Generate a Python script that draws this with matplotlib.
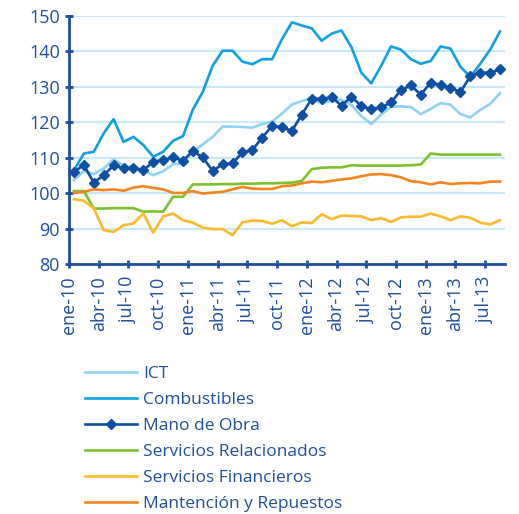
import numpy as np
import matplotlib
matplotlib.use('Agg')
import matplotlib.pyplot as plt

plt.rcParams['font.family'] = ['Open Sans', 'DejaVu Sans']

text_color = '#1f4e9c'
grid_color = '#c8e9f8'

meses = ['ene', 'feb', 'mar', 'abr', 'may', 'jun', 'jul', 'ago', 'sep', 'oct', 'nov', 'dic']
years = ['10', '11', '12', '13']
months = [f'{m}-{y}' for y in years for m in meses][:44]

ict = [103.7, 106.3, 105.4, 107.0, 109.6, 107.7, 107.5, 106.5, 105.1, 106.2,
       108.2, 108.4, 111.7, 113.8, 115.9, 118.8, 118.8, 118.7, 118.5, 119.5,
       120.2, 122.5, 125.0, 126.0, 126.8, 125.3, 126.1, 126.4, 124.9, 121.8,
       119.5, 122.2, 124.4, 124.5, 124.3, 122.3, 123.8, 125.4, 125.0, 122.3,
       121.4, 123.5, 125.2, 128.2]
combustibles = [106.5, 111.2, 111.7, 116.9, 120.9, 114.5, 115.9, 113.6, 110.3, 111.7,
                114.8, 116.1, 123.6, 128.6, 136.0, 140.2, 140.2, 137.1, 136.4, 137.8,
                137.8, 143.5, 148.2, 147.3, 146.5, 143.0, 145.0, 145.9, 141.2, 134.0,
                131.0, 135.9, 141.4, 140.5, 137.8, 136.5, 137.3, 141.4, 140.8, 135.7,
                132.8, 136.5, 140.5, 145.6]
mano_obra = [106.1, 107.9, 103.0, 105.1, 107.9, 107.0, 107.0, 106.5, 108.9, 109.4,
             110.1, 109.2, 111.9, 110.1, 106.3, 108.2, 108.4, 111.5, 112.2, 115.7,
             119.0, 118.6, 117.6, 122.2, 126.7, 126.6, 127.1, 124.7, 127.2, 124.6,
             123.7, 124.2, 125.6, 129.1, 130.4, 127.8, 131.2, 130.5, 129.8, 128.5,
             133.0, 134.0, 134.0, 134.9]
serv_relacionados = [100.6, 100.6, 95.7, 95.7, 95.8, 95.8, 95.8, 94.8, 94.9, 94.8,
                     99.0, 99.0, 102.5, 102.5, 102.5, 102.6, 102.6, 102.7, 102.7, 102.8,
                     102.8, 102.9, 103.0, 103.5, 106.8, 107.2, 107.3, 107.3, 107.9, 107.8,
                     107.8, 107.8, 107.8, 107.8, 107.9, 108.1, 111.2, 110.9, 110.9, 110.9,
                     110.9, 110.9, 110.9, 110.9]
serv_financieros = [98.3, 97.9, 95.7, 89.6, 89.1, 91.0, 91.5, 94.3, 88.9, 93.5,
                    94.3, 92.4, 91.7, 90.3, 89.9, 89.9, 88.2, 91.8, 92.3, 92.2,
                    91.4, 92.4, 90.7, 91.8, 91.6, 94.1, 92.7, 93.7, 93.6, 93.5,
                    92.4, 93.0, 91.9, 93.2, 93.4, 93.4, 94.3, 93.5, 92.4, 93.5,
                    93.1, 91.7, 91.2, 92.4]
mantencion = [100.1, 100.4, 101.1, 100.9, 101.1, 100.7, 101.6, 102.0, 101.5, 101.1,
              100.1, 100.1, 100.6, 99.9, 100.2, 100.4, 101.1, 101.8, 101.3, 101.2,
              101.2, 102.0, 102.2, 102.8, 103.3, 103.1, 103.5, 103.9, 104.2, 104.8,
              105.3, 105.4, 105.1, 104.5, 103.4, 103.1, 102.5, 103.1, 102.6, 102.8,
              102.9, 102.8, 103.3, 103.3]

x = np.arange(len(months)) + 0.5

fig = plt.figure(figsize=(5.19, 5.14), dpi=100)
ax = fig.add_axes([0.133, 0.486, 0.84, 0.483])

ax.plot(x, ict, color='#8fd3f4', lw=1.9, label='ICT')
ax.plot(x, combustibles, color='#0fa0e0', lw=1.9, label='Combustibles')
ax.plot(x, mano_obra, color='#0d4fa3', lw=1.9, marker='D', markersize=5.5, label='Mano de Obra')
ax.plot(x, serv_relacionados, color='#7cc22e', lw=1.9, label='Servicios Relacionados')
ax.plot(x, serv_financieros, color='#fdb92c', lw=1.9, label='Servicios Financieros')
ax.plot(x, mantencion, color='#f5841f', lw=1.9, label='Mantención y Repuestos')

ax.set_xlim(0, len(months))
ax.set_ylim(80, 150)
ax.set_yticks(range(80, 151, 10))
ax.set_xticks(np.arange(0, len(months), 3))
ax.set_xticklabels(months[::3], rotation=90)

ax.grid(axis='y', color=grid_color, lw=1.5)
ax.set_axisbelow(True)
for s in ['top', 'right']:
    ax.spines[s].set_visible(False)
for s in ['left', 'bottom']:
    ax.spines[s].set_color(text_color)
    ax.spines[s].set_linewidth(2)
ax.tick_params(axis='both', colors=text_color, labelsize=13, width=2, length=6, direction='inout')
ax.tick_params(axis='x', pad=6)

fig.legend(loc='upper left', bbox_to_anchor=(0.164, 0.289), frameon=False, fontsize=12.5,
           handlelength=3.0, handletextpad=0.35, labelspacing=0.57, borderpad=0, borderaxespad=0,
           labelcolor=text_color)

plt.savefig('out.png', dpi=100)
